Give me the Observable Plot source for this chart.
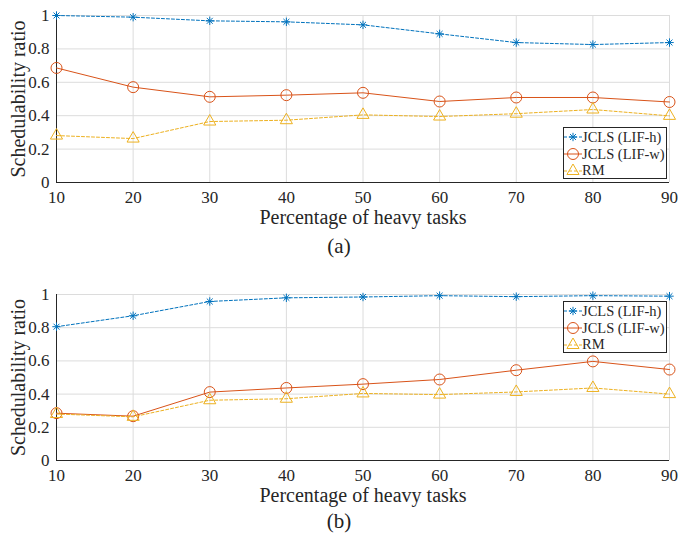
<!DOCTYPE html>
<html><head><meta charset="utf-8">
<script src="https://cdn.jsdelivr.net/npm/d3@7"></script>
<script src="https://cdn.jsdelivr.net/npm/@observablehq/plot@0.6"></script>
<style>
body{margin:0;background:#fff;font-family:'Liberation Serif',serif;}
.chart{position:relative;width:678px;}
.cap{text-align:center;font-size:21px;color:#222;width:678px;font-family:'Liberation Serif',serif;}
.legend{position:absolute;background:#fff;border:1px solid #262626;font-size:14.5px;color:#262626;box-sizing:border-box;padding:1px 0 0 0;font-family:'Liberation Serif',serif;}
.legend div{display:flex;align-items:center;height:16.7px;white-space:nowrap;}
.legend svg{margin-right:0px;}
</style>
</head><body>
<div id="root"></div>
<script>
const xs = [10, 20, 30, 40, 50, 60, 70, 80, 90];
const yTicks = [0, 0.2, 0.4, 0.6, 0.8, 1];
const seriesNames = ["JCLS (LIF-h)", "JCLS (LIF-w)", "RM"];
const seriesColors = ["#0072BD", "#D95319", "#EDB120"];
const xLabel = "Percentage of heavy tasks";
const yLabel = "Schedulability ratio";

const aLIFh = [1.0, 0.99, 0.968, 0.962, 0.944, 0.89, 0.838, 0.826, 0.838];
const aLIFw = [0.686, 0.571, 0.513, 0.523, 0.537, 0.485, 0.509, 0.509, 0.482];
const aRM   = [0.281, 0.263, 0.365, 0.373, 0.405, 0.395, 0.412, 0.437, 0.399];

const bLIFh = [0.806, 0.872, 0.958, 0.98, 0.985, 0.993, 0.987, 0.993, 0.99];
const bLIFw = [0.285, 0.267, 0.412, 0.437, 0.46, 0.488, 0.544, 0.597, 0.548];
const bRM   = [0.28, 0.263, 0.363, 0.372, 0.404, 0.397, 0.413, 0.437, 0.4];

const asterisk8 = {
  draw(ctx, size) {
    const r = Math.sqrt(size / Math.PI);
    const d = r * Math.SQRT1_2;
    ctx.moveTo(-r, 0); ctx.lineTo(r, 0);
    ctx.moveTo(0, -r); ctx.lineTo(0, r);
    ctx.moveTo(-d, -d); ctx.lineTo(d, d);
    ctx.moveTo(-d, d); ctx.lineTo(d, -d);
  }
};
const symbols = [asterisk8, "circle", "triangle"];
const radii = [4.2, 5.5, 4.5];
const dashes = ["3,2", null, "3,2"];
const FONT = "Liberation Serif, Times New Roman, serif";

function makeChart(series, height, marginTop) {
  const marks = [
    Plot.gridX(xs, {stroke: "#dcdcdc", strokeOpacity: 1}),
    Plot.gridY(yTicks, {stroke: "#dcdcdc", strokeOpacity: 1}),
    Plot.axisX(xs, {tickSize: 0, tickPadding: 8, fontSize: 17, fontFamily: FONT, label: null}),
    Plot.axisX({ticks: [], label: xLabel, labelAnchor: "center", labelOffset: 41, labelArrow: "none", fontSize: 20, fontFamily: FONT}),
    Plot.axisY(yTicks, {tickSize: 0, tickPadding: 7, fontSize: 17, fontFamily: FONT, label: null, tickFormat: d => String(+d.toFixed(1))}),
    Plot.axisY({ticks: [], label: yLabel, labelAnchor: "center", labelOffset: 46, labelArrow: "none", fontSize: 20, fontFamily: FONT}),
    Plot.ruleX([10], {stroke: "#262626"}),
    Plot.ruleY([0], {stroke: "#262626"})
  ];
  series.forEach((vals, i) => {
    const data = xs.map((x, j) => ({x, y: vals[j]}));
    marks.push(Plot.line(data, {x: "x", y: "y", stroke: seriesColors[i], strokeWidth: 1, strokeDasharray: dashes[i]}));
    marks.push(Plot.dot(data, {x: "x", y: "y", stroke: seriesColors[i], fill: "none", strokeWidth: 1, symbol: symbols[i], r: radii[i]}));
  });
  return Plot.plot({
    width: 678, height, marginLeft: 56, marginRight: 9, marginTop, marginBottom: 44,
    style: {fontFamily: FONT, fontSize: "17px", color: "#262626", background: "white", overflow: "visible"},
    x: {domain: [10, 90]},
    y: {domain: [0, 1]},
    marks
  });
}

function legendSwatch(i) {
  const ns = "http://www.w3.org/2000/svg";
  const svg = document.createElementNS(ns, "svg");
  svg.setAttribute("width", 18); svg.setAttribute("height", 14);
  const line = document.createElementNS(ns, "line");
  line.setAttribute("x1", 0); line.setAttribute("x2", 18); line.setAttribute("y1", 7); line.setAttribute("y2", 7);
  line.setAttribute("stroke", seriesColors[i]);
  if (dashes[i]) line.setAttribute("stroke-dasharray", dashes[i]);
  svg.appendChild(line);
  const p = document.createElementNS(ns, "path");
  const sym = typeof symbols[i] === "string" ? (symbols[i] === "circle" ? d3.symbolCircle : d3.symbolTriangle) : symbols[i];
  p.setAttribute("d", d3.symbol(sym, Math.PI * radii[i] * radii[i])());
  p.setAttribute("transform", "translate(9,7)");
  p.setAttribute("fill", "none"); p.setAttribute("stroke", seriesColors[i]);
  svg.appendChild(p);
  return svg;
}

function makeLegend(left, top) {
  const lg = document.createElement("div");
  lg.className = "legend";
  lg.style.left = left + "px"; lg.style.top = top + "px";
  lg.style.width = "104px"; lg.style.height = "52px";
  seriesNames.forEach((n, i) => {
    const row = document.createElement("div");
    row.appendChild(legendSwatch(i));
    row.appendChild(document.createTextNode(n));
    lg.appendChild(row);
  });
  return lg;
}

const root = document.getElementById("root");
function addPanel(series, height, marginTop, legTop, caption, capH) {
  const c = document.createElement("div");
  c.className = "chart";
  c.appendChild(makeChart(series, height, marginTop));
  c.appendChild(makeLegend(563, legTop));
  root.appendChild(c);
  const cap = document.createElement("div");
  cap.className = "cap";
  cap.style.height = capH + "px"; cap.style.lineHeight = capH + "px";
  cap.textContent = caption;
  root.appendChild(cap);
}
addPanel([aLIFh, aLIFw, aRM], 226, 15, 127, "(a)", 40);
addPanel([bLIFh, bLIFw, bRM], 238, 28, 35, "(b)", 34);
</script>
</body></html>
